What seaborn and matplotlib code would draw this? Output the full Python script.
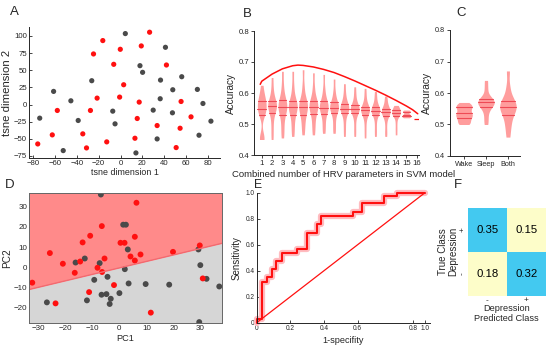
import numpy as np
import pandas as pd
import matplotlib
matplotlib.use("Agg")
import matplotlib.pyplot as plt
from matplotlib.colors import ListedColormap
import seaborn as sns

# ---------------- data ----------------
# A: t-SNE embedding (red = depressed, gray = control)
tsne_gray_x = [4.4, 41.1, 17.8, 20.2, 56.0, -26.3, 36.6, -61.2, 47.8, 70.3, -45.4, 36.3,
               75.4, 29.9, -7.1, 47.5, -73.9, -38.7, -5.0, 82.7, 71.8, 33.5, -52.4, 14.1]
tsne_gray_y = [103.4, 83.4, 56.6, 46.9, 40.5, 34.7, 35.6, 19.1, 21.5, 22.0, 5.4, 8.4,
               1.5, -8.2, -9.7, -12.1, -19.9, -23.3, -28.2, -24.3, -44.8, -50.2, -67.2, -70.6]
tsne_red_x = [26.6, -16.2, 19.0, -0.2, -24.7, -6.2, 42.0, 2.9, -21.4, -0.8, 17.1, 55.4, -57.8,
              -27.5, 15.3, 64.5, 33.5, 54.5, -34.5, -62.4, -12.6, 13.2, -75.7, -31.1, 50.9]
tsne_red_y = [105.4, 93.2, 85.4, 80.5, 73.7, 58.6, 57.6, 28.8, 9.3, 10.8, 3.5, 4.4, -8.7,
              -8.7, -20.4, -18.0, -30.7, -34.6, -42.8, -44.3, -54.5, -49.2, -57.5, -63.3, -62.8]

# B: accuracy by number of combined HRV parameters
b_counts = list(range(1, 16))
b_samples = [
    [.450, .453, .458, .530, .535, .545, .550, .560, .570, .575, .585, .600, .625],
    [.450, .480, .510, .535, .545, .553, .558, .563, .567, .575, .590, .615, .650],
    [.455, .480, .505, .530, .540, .550, .555, .562, .570, .578, .595, .625, .670],
    [.460, .485, .508, .530, .542, .550, .555, .562, .568, .575, .595, .625, .670],
    [.465, .490, .510, .530, .540, .550, .555, .563, .570, .575, .595, .625, .675],
    [.465, .490, .510, .532, .543, .550, .555, .563, .570, .575, .592, .620, .665],
    [.470, .490, .512, .533, .543, .550, .553, .560, .567, .573, .590, .615, .660],
    [.470, .490, .513, .535, .544, .550, .553, .558, .565, .570, .585, .607, .645],
    [.460, .487, .512, .535, .542, .547, .550, .555, .560, .565, .580, .600, .630],
    [.460, .485, .512, .535, .540, .545, .548, .552, .556, .560, .575, .595, .620],
    [.455, .483, .510, .530, .537, .542, .545, .549, .552, .555, .570, .590, .615],
    [.460, .483, .508, .530, .535, .540, .543, .547, .551, .555, .567, .585, .605],
    [.460, .480, .505, .525, .530, .535, .540, .543, .546, .550, .560, .575, .590],
    [.465, .485, .505, .525, .528, .532, .535, .538, .541, .545, .550, .555, .560],
    [.520, .522, .523, .525, .527, .529, .530, .533, .537, .540, .541, .543, .545],
]
b_single_count = 16
b_single_value = 0.515
b_curve_n = [0.85, 1, 2, 3, 4, 4.5, 5, 6, 7, 8, 9, 10, 11, 12, 13, 14, 15, 15.6, 16.1]
b_curve_acc = [0.628, 0.638, 0.661, 0.678, 0.688, 0.690, 0.689, 0.684, 0.676, 0.666, 0.653,
               0.639, 0.624, 0.609, 0.593, 0.576, 0.558, 0.546, 0.533]

# C: accuracy by recording state
c_states = ["Wake", "Sleep", "Both"]
c_samples = [
    [.500, .505, .512, .520, .525, .530, .535, .540, .548, .555, .558, .563, .570],
    [.500, .520, .540, .555, .560, .565, .570, .573, .577, .580, .590, .615, .640],
    [.460, .490, .510, .530, .540, .550, .555, .560, .570, .575, .590, .620, .670],
]

# D: PCA projection with SVM decision boundary
pca_gray_x = [-6.85, 1.4, 2.4, 3.1, -16.2, -12.8, -7.3, 2.0, -9.3, -4.4, 29.2, 29.9, 32.2,
              36.9, 9.7, 18.4, 3.4, -6.6, -4.8, 0.0, -3.2, -3.6, -12.0, -26.8, 29.5]
pca_gray_y = [36.1, 21.1, 21.1, 8.8, 2.3, 4.3, 2.0, -1.0, -6.3, -4.8, 8.8, 1.0, -5.8,
              -9.6, -8.4, -8.7, -8.1, -13.7, -13.4, -12.9, -15.7, -18.3, -16.5, -17.5, -27.3]
pca_red_x = [6.3, -6.5, -25.7, -20.9, -16.5, -14.5, -13.6, -10.8, -5.5, -8.1, -6.4, 0.4, 1.9,
             5.7, 4.1, 5.7, 7.8, 19.8, 29.7, 30.8, -2.0, -11.2, -23.6, -32.2, 11.6]
pca_red_y = [32.0, 20.4, 7.0, 1.7, -2.8, 2.8, 12.3, 15.6, 4.3, -0.3, -2.4, 12.1, 12.1,
             15.1, 5.3, 3.3, 6.3, 7.6, 10.8, -5.6, -8.9, -12.4, -18.0, -7.7, -22.6]
boundary_x = [-33.3, 37.8]
boundary_y = [-11.1, 11.8]

# E: ROC curve
roc_fpr = [0, 0, 0.033, 0.059, 0.092, 0.117, 0.15, 0.239, 0.297, 0.358, 0.38, 0.575,
           0.626, 0.755, 0.836, 1.0]
roc_tpr = [0, 0.03, 0.315, 0.35, 0.41, 0.477, 0.54, 0.57, 0.69, 0.756, 0.82, 0.85,
           0.918, 0.974, 1.0, 1.0]
chance = [0, 1]
e_tick_pos = [0, 0.2, 0.4, 0.6, 0.93, 1.0]
e_tick_lab = ["0", "0.2", "0.4", "0.6", "0.8", "1.0"]

# F: confusion matrix
conf = [[0.35, 0.15], [0.18, 0.32]]
conf_true = ["+", "-"]
conf_pred = ["-", "+"]

# ---------------- style ----------------
RED = "#ff1010"
GRAY = "#4a4a4a"
VIOLIN = "#ff9d9d"
QUART = "#ee4a55"

sns.set_style("ticks")
plt.rcParams["font.family"] = ["Liberation Sans", "DejaVu Sans"]
plt.rcParams["axes.linewidth"] = 0.7

W, H = 550, 352
fig = plt.figure(figsize=(W / 100, H / 100), dpi=100)


def box(l, t, r, b):
    return [l / W, 1 - b / H, (r - l) / W, (b - t) / H]


def letter(x, y, s, size=9.5):
    fig.text(x / W, 1 - y / H, s, fontsize=size, ha="center", va="center")


def solid_quartiles(ax):
    # seaborn draws quartiles dashed, the figure has them solid
    for ln in ax.lines:
        ln.set_linestyle("-")


# ---- A ----
ax = fig.add_axes(box(29, 27, 220, 158))
tsne = pd.DataFrame({
    "x": tsne_gray_x + tsne_red_x,
    "y": tsne_gray_y + tsne_red_y,
    "g": ["gray"] * len(tsne_gray_x) + ["red"] * len(tsne_red_x),
})
sns.scatterplot(data=tsne, x="x", y="y", hue="g", palette={"gray": GRAY, "red": RED},
                s=14, linewidth=0, legend=False, ax=ax)
ax.set_xlim(-83.7, 91)
ax.set_ylim(-78, 113)
ax.set_xticks(range(-80, 81, 20))
ax.set_yticks(range(-75, 101, 25))
ax.tick_params(direction="in", length=2, width=0.6, pad=1.5, labelsize=5.6)
ax.set_xlabel("tsne dimension 1", fontsize=6.4, labelpad=1)
ax.set_ylabel("tsne dimension 2", fontsize=8.2, labelpad=1)
sns.despine(ax=ax)
letter(14, 12, "A")

# ---- B ----
ax = fig.add_axes(box(254, 31, 419, 155))
bdf = pd.DataFrame([(n, v) for n, vals in zip(b_counts, b_samples) for v in vals],
                   columns=["n", "acc"])
sns.violinplot(data=bdf, x="n", y="acc", native_scale=True, inner="quart", color=VIOLIN,
               linecolor=QUART, saturation=1, linewidth=0, width=0.85, density_norm="width",
               cut=0, bw_adjust=0.6, inner_kws=dict(color=QUART, linewidth=0.8), ax=ax)
solid_quartiles(ax)
ax.hlines(b_single_value, b_single_count - 0.25, b_single_count + 0.25, color=RED, lw=0.9)
sns.lineplot(x=b_curve_n, y=b_curve_acc, color=RED, lw=1.1, sort=False, estimator=None, ax=ax)
ax.set_xlim(0.25, 16.22)
ax.set_ylim(0.4, 0.8)
ax.set_xticks(range(1, 17))
ax.set_yticks([0.4, 0.5, 0.6, 0.7, 0.8])
ax.tick_params(direction="out", length=2, width=0.6, pad=1.5, labelsize=5.6)
ax.set_xlabel("Combined number of HRV parameters in SVM model", fontsize=6.8)
ax.xaxis.set_label_coords(0.545, -0.12)
ax.set_ylabel("Accuracy", fontsize=7.2, labelpad=2)
sns.despine(ax=ax)
letter(247, 14, "B")

# ---- C ----
ax = fig.add_axes(box(450, 30, 520, 156))
cdf = pd.DataFrame([(s, v) for s, vals in zip(c_states, c_samples) for v in vals],
                   columns=["state", "acc"])
sns.violinplot(data=cdf, x="state", y="acc", order=c_states, inner="quart", color=VIOLIN,
               linecolor=QUART, saturation=1, linewidth=0, width=0.75, density_norm="width",
               cut=0, bw_adjust=0.6, inner_kws=dict(color=QUART, linewidth=0.8), ax=ax)
solid_quartiles(ax)
ax.set_xlim(-0.64, 2.55)
ax.set_ylim(0.4, 0.8)
ax.set_yticks([0.4, 0.5, 0.6, 0.7, 0.8])
ax.tick_params(direction="out", length=2, width=0.6, pad=1.5, labelsize=5.2)
ax.set_xlabel("")
ax.set_ylabel("Accuracy", fontsize=7.4, labelpad=2)
sns.despine(ax=ax)
letter(461, 13, "C")

# ---- D ----
ax = fig.add_axes(box(29.3, 192.7, 221.7, 323.3))
ax.fill_between(boundary_x, boundary_y, 40, color="#ff8a8a", lw=0)
ax.fill_between(boundary_x, -30, boundary_y, color="#d6d6d6", lw=0)
sns.lineplot(x=boundary_x, y=boundary_y, color="#f26a70", lw=1.0, ax=ax)
pca = pd.DataFrame({
    "x": pca_gray_x + pca_red_x,
    "y": pca_gray_y + pca_red_y,
    "g": ["gray"] * len(pca_gray_x) + ["red"] * len(pca_red_x),
})
sns.scatterplot(data=pca, x="x", y="y", hue="g", palette={"gray": GRAY, "red": RED},
                s=18, linewidth=0, legend=False, ax=ax)
ax.set_xlim(-33.3, 37.8)
ax.set_ylim(-27.9, 37)
ax.set_xticks(range(-30, 31, 10))
ax.set_yticks(range(-20, 31, 10))
ax.tick_params(direction="in", length=2, width=0.6, pad=1.5, labelsize=5.8)
for sp in ax.spines.values():
    sp.set_color("#666666")
ax.set_xlabel("PC1", fontsize=6.6, labelpad=1)
ax.set_ylabel("PC2", fontsize=7.2, labelpad=1)
letter(10, 185, "D")

# ---- E ----
ax = fig.add_axes(box(256.7, 192.7, 430, 322.7))
sns.lineplot(x=roc_fpr, y=roc_tpr, color="#ffbcc0", lw=4.5, sort=False, estimator=None,
             drawstyle="steps-post", ax=ax, clip_on=False)
sns.lineplot(x=roc_fpr, y=roc_tpr, color=RED, lw=1.5, sort=False, estimator=None,
             drawstyle="steps-post", ax=ax, clip_on=False)
sns.lineplot(x=chance, y=chance, color=RED, lw=0.9, ax=ax)
ax.set_xlim(0, 1.03)
ax.set_ylim(0, 1.0)
ax.set_xticks(e_tick_pos)
ax.set_xticklabels(e_tick_lab)
ax.set_yticks([0, 0.2, 0.4, 0.6, 0.8, 1.0])
ax.set_yticklabels(["0", "0.2", "0.4", "0.6", "0.8", "1.0"])
ax.tick_params(direction="in", length=2, width=0.6, pad=1.5, labelsize=4.7)
ax.set_xlabel("1-specifity", fontsize=6.6, labelpad=3)
ax.set_ylabel("Sensitivity", fontsize=7.0, labelpad=3)
sns.despine(ax=ax)
letter(258, 185, "E", size=8.8)

# ---- F ----
ax = fig.add_axes(box(467.7, 207.7, 545.7, 295.7))
cm = pd.DataFrame(conf, index=conf_true, columns=conf_pred)
sns.heatmap(cm, annot=True, fmt=".2f", cmap=ListedColormap(["#fdfdc9", "#43c9f0"]),
            vmin=0.1, vmax=0.4, cbar=False, annot_kws={"size": 8.2, "color": "black"}, ax=ax)
ax.tick_params(length=0, pad=1, labelsize=6)
ax.set_yticklabels(conf_true, rotation=90, va="center")
ax.set_xlabel("Depression\nPredicted Class", fontsize=6.6, labelpad=0, linespacing=1.2)
ax.set_ylabel("True Class\nDepression", fontsize=7.0, labelpad=1, linespacing=0.95)
letter(458, 185, "F")

fig.savefig("out.png", dpi=100)
